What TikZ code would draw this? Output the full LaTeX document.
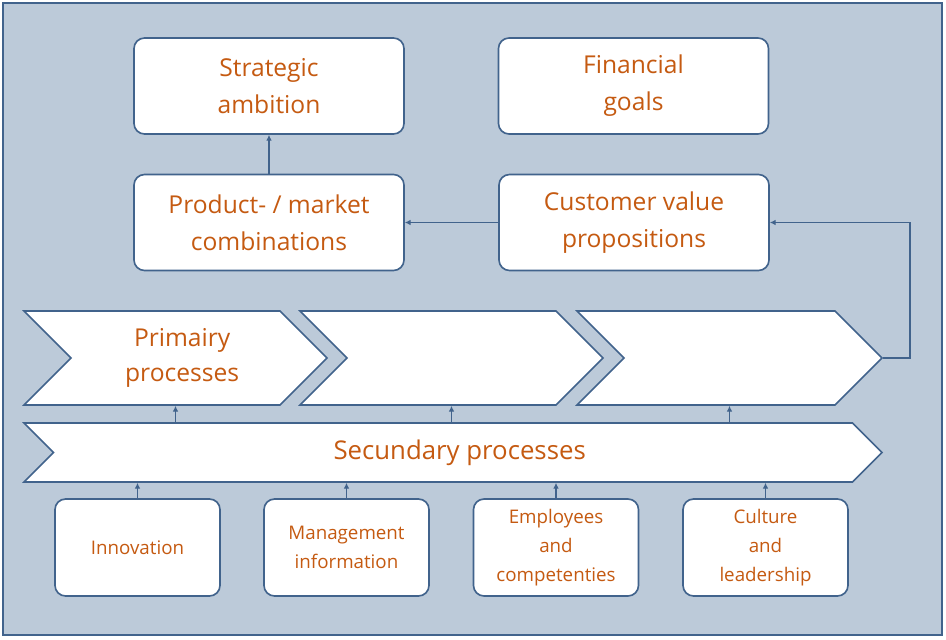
\documentclass[tikz,border=0pt]{standalone}
\usepackage{fontspec}
\setmainfont{Open Sans}
\usetikzlibrary{shapes.symbols,arrows.meta}
\definecolor{bgblue}{RGB}{188,202,217}
\definecolor{lineblue}{RGB}{65,99,140}
\definecolor{textorange}{RGB}{197,90,17}
\tikzset{
  box/.style={draw=lineblue, fill=white, line width=1.4pt, rounded corners=9pt,
    align=center, text=textorange, inner sep=0pt},
  bigbox/.style={box, minimum width=8.1cm, minimum height=2.88cm,
    font=\fontsize{21}{31.5}\selectfont},
  smallbox/.style={box, minimum width=4.95cm, minimum height=2.91cm,
    font=\fontsize{16}{24.5}\selectfont},
  chevron/.style={signal, signal from=west, signal to=east, signal pointer angle=90,
    draw=lineblue, fill=white, line width=1.4pt, align=center, text=textorange, inner sep=0pt},
  arr/.style={draw=lineblue, line width=1.3pt, -{Latex[length=5pt,width=5pt]}}
}
\begin{document}
\begin{tikzpicture}[x=0.03cm, y=-0.03cm]
        \useasboundingbox (0, 0) rectangle (946, 639);
        \draw[fill=bgblue, draw=lineblue, line width=1.4pt] (3, 3) rectangle (942, 635);

        % top row
        \node[bigbox] (ambition) at (269, 86) {Strategic\\ambition};
        \node[bigbox] (goals) at (633.5, 86) {Financial\\goals};
        \node[bigbox] (pmc) at (269, 222.5) {Product- / market\\combinations};
        \node[bigbox] (cvp) at (634, 222.5) {Customer value\\propositions};

        % primary chain
        \node[chevron, minimum width=9.09cm, minimum height=2.82cm,
          font=\fontsize{21}{30}\selectfont] (prim1) at (175.5, 358) {\hspace*{0.4cm}Primairy\\\hspace*{0.4cm}processes};
        \node[chevron, minimum width=9.09cm, minimum height=2.82cm] (prim2) at (451.5, 358) {};
        \node[chevron, minimum width=9.15cm, minimum height=2.82cm] (prim3) at (729.5, 358) {};

        % secondary
        \node[chevron, minimum width=25.74cm, minimum height=1.77cm,
          font=\fontsize{22}{24}\selectfont] (sec) at (453, 452.5) {\hspace*{0.4cm}Secundary processes};

        % bottom row
        \node[smallbox] (inno) at (137.5, 547.5) {Innovation};
        \node[smallbox] (mgmt) at (346.5, 547.5) {Management\\information};
        \node[smallbox] (empl) at (556, 547.5) {Employees\\and\\competenties};
        \node[smallbox] (cult) at (765.5, 547.5) {Culture\\and\\leadership};

        \coordinate (turn) at (910, 358);

        \draw[arr] (pmc) -- (ambition);
        \draw[arr] (cvp) -- (pmc);
        \draw[arr] (prim3.east) -- (turn) |- (cvp.east);

        \draw[arr] (sec.north -| prim1.south) -- (prim1.south);
        \draw[arr] (sec.north -| prim2.south) -- (prim2.south);
        \draw[arr] (sec.north -| prim3.south) -- (prim3.south);

        \draw[arr] (inno) -- (inno.north |- sec.south);
        \draw[arr] (mgmt) -- (mgmt.north |- sec.south);
        \draw[arr] (empl) -- (empl.north |- sec.south);
        \draw[arr] (cult) -- (cult.north |- sec.south);
    \end{tikzpicture}
\end{document}
